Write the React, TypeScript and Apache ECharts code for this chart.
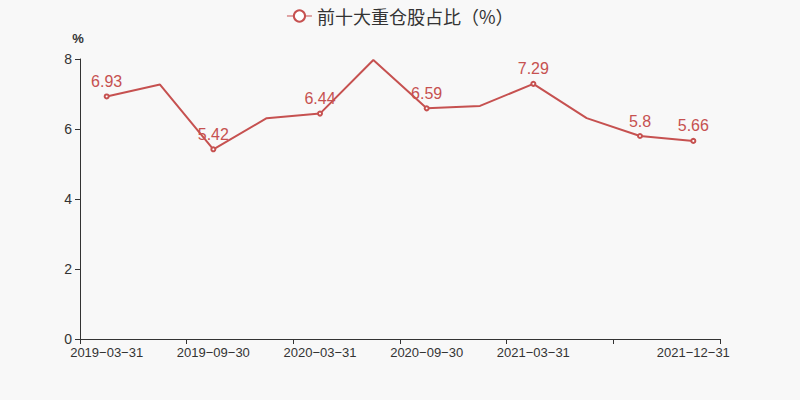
import React, { useEffect, useRef } from "react";
import * as echarts from "echarts";

const categories = [
  "2019-03-31", "2019-06-30", "2019-09-30", "2019-12-31",
  "2020-03-31", "2020-06-30", "2020-09-30", "2020-12-31",
  "2021-03-31", "2021-06-30", "2021-09-30", "2021-12-31",
];
const values = [6.93, 7.27, 5.42, 6.31, 6.44, 7.97, 6.59, 6.66, 7.29, 6.31, 5.8, 5.66];
const labeledIdx = [0, 2, 4, 6, 8, 10, 11];
const yTicks = [0, 2, 4, 6, 8];
const seriesName = "前十大重仓股占比（%）";

const COLOR = "#c65150";

export default function App() {
  const ref = useRef<HTMLDivElement>(null);
  useEffect(() => {
    const chart = echarts.init(ref.current!, null, { renderer: "svg" });
    chart.setOption({
      animation: false,
      backgroundColor: "#f8f8f8",
      legend: {
        top: 2,
        left: "center",
        itemWidth: 25,
        itemHeight: 14,
        itemStyle: { borderWidth: 1 },
        lineStyle: { width: 1 },
        textStyle: { fontSize: 18, color: "#333", fontFamily: "Noto Sans CJK KR" },
        data: [{ name: seriesName }],
      },
      grid: { left: 80, right: 80, top: 59, bottom: 61 },
      xAxis: {
        type: "category",
        data: categories,
        boundaryGap: true,
        axisLine: { lineStyle: { color: "#333" } },
        axisTick: { show: true, interval: 1, length: 5, lineStyle: { color: "#333" } },
        axisLabel: {
          color: "#333",
          fontSize: 13,
          margin: 7,
          fontFamily: "Liberation Sans",
          interval: (i: number) => (i % 2 === 0 && i !== 10) || i === 11,
          formatter: (v: string) => v.replace(/-/g, "\u2212"),
        },
      },
      yAxis: {
        type: "value",
        min: yTicks[0],
        max: yTicks[yTicks.length - 1],
        interval: 2,
        name: "%",
        nameTextStyle: { color: "#333", fontSize: 13, fontWeight: "bold", padding: [0, 0, 0, -4] },
        nameGap: 14,
        axisLine: { show: true, lineStyle: { color: "#333" } },
        axisTick: { show: true, length: 5, lineStyle: { color: "#333" } },
        axisLabel: { color: "#333", fontSize: 14, margin: 8, fontFamily: "Liberation Sans" },
        splitLine: { show: false },
      },
      series: [
        {
          name: seriesName,
          type: "line",
          color: COLOR,
          lineStyle: { width: 2, color: COLOR },
          symbol: "emptyCircle",
          symbolSize: 4,
          itemStyle: { color: COLOR },
          data: values.map((v, i) => {
            const show = labeledIdx.includes(i);
            return {
              value: v,
              symbol: show ? "emptyCircle" : "none",
              label: { show },
            };
          }),
          label: {
            position: "top",
            color: COLOR,
            fontSize: 16,
            distance: 4,
            fontFamily: "Liberation Sans",
          },
        },
      ],
    });
    return () => chart.dispose();
  }, []);
  return (
    <div
      ref={ref}
      style={{ position: "fixed", left: 0, top: 0, width: 800, height: 400 }}
    />
  );
}
